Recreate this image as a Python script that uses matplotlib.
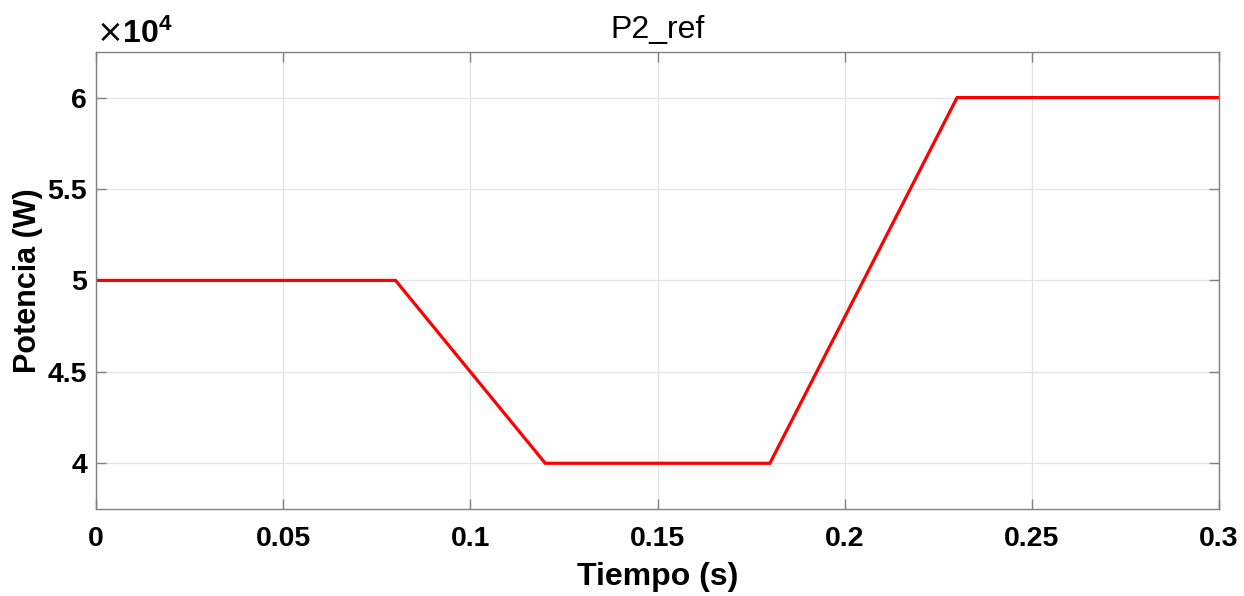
import matplotlib
matplotlib.use("Agg")
import matplotlib.pyplot as plt
from matplotlib.ticker import FuncFormatter

# reference power P2_ref (W) vs time (s)
tiempo = [0, 0.08, 0.12, 0.18, 0.23, 0.3]
potencia = [50000, 50000, 40000, 40000, 60000, 60000]
xticks = [0, 0.05, 0.1, 0.15, 0.2, 0.25, 0.3]
yticks = [40000, 45000, 50000, 55000, 60000]

plt.rcParams['font.family'] = ['Liberation Sans', 'DejaVu Sans']
plt.rcParams['mathtext.fontset'] = 'custom'
plt.rcParams['mathtext.rm'] = 'DejaVu Sans'
plt.rcParams['mathtext.bf'] = 'Liberation Sans:bold'

fig = plt.figure(figsize=(12.44, 5.96), dpi=100)
ax = fig.add_axes([0.0772, 0.146, 0.9028, 0.767])

ax.plot(tiempo, potencia, color='#ff0000', lw=2.3, solid_joinstyle='miter')

ax.set_xlim(0, 0.3)
ax.set_ylim(37500, 62500)
ax.set_xticks(xticks)
ax.set_yticks(yticks)
ax.xaxis.set_major_formatter(FuncFormatter(lambda v, p: f'{v:g}'))
ax.yaxis.set_major_formatter(FuncFormatter(lambda v, p: f'{v/1e4:g}'))

ax.grid(True, color='#e3e3e3', lw=0.9)
ax.set_axisbelow(True)
for s in ax.spines.values():
    s.set_color('#808080')
    s.set_linewidth(1.0)
ax.tick_params(direction='in', length=7, width=1, color='#808080',
               top=True, right=True, labelsize=20.5)
ax.tick_params(axis='x', pad=12)
ax.tick_params(axis='y', pad=6.5)
for lab in ax.get_xticklabels() + ax.get_yticklabels():
    lab.set_fontweight('bold')

ax.set_xlabel('Tiempo (s)', fontsize=23, fontweight='bold')
ax.xaxis.set_label_coords(0.5, -0.116)
ax.set_ylabel('Potencia (W)', fontsize=22, fontweight='bold')
ax.yaxis.set_label_coords(-0.0468, 0.5)
ax.set_title('P2_ref', fontsize=23, pad=10)
ax.text(0.0, 1.004, r'$\times\mathbf{10^{4}}$', transform=ax.transAxes,
        fontsize=23, ha='left', va='bottom')

fig.savefig('out.png', dpi=100)
